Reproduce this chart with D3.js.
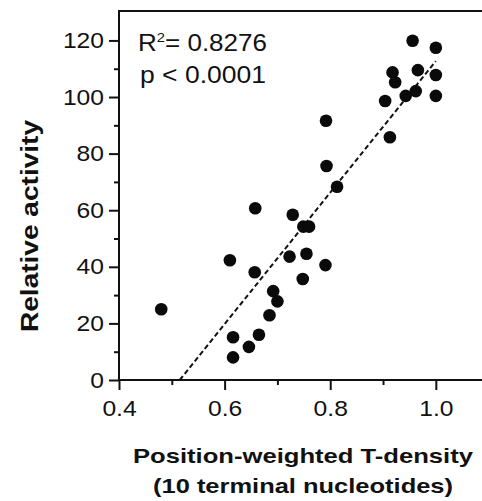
<!DOCTYPE html>
<meta charset="utf-8">
<html>
<head>
<style>
  body { margin: 0; background: #fff; overflow: hidden; }
  text { font-family: "Liberation Sans", Arial, sans-serif; fill: #111; }
</style>
</head>
<body>
<div id="chart"></div>
<script src="https://d3js.org/d3.v7.min.js"></script>
<script>

// data
var tDensity = [0.956, 1.0, 0.918, 0.966, 1.0, 0.923, 0.962, 0.943, 1.0, 0.904,
                0.913, 0.792, 0.793, 0.813, 0.658, 0.729, 0.749, 0.760, 0.610, 0.657,
                0.723, 0.755, 0.791, 0.748, 0.692, 0.700, 0.685, 0.665, 0.616, 0.646,
                0.616, 0.480];
var activity = [119.9, 117.4, 108.7, 109.5, 107.8, 105.2, 102.1, 100.4, 100.4, 98.6,
                85.8, 91.6, 75.6, 68.3, 60.7, 58.4, 54.2, 54.2, 42.3, 38.1,
                43.6, 44.6, 40.6, 35.7, 31.4, 27.8, 22.9, 16.0, 15.1, 11.7,
                8.0, 25.0];
// ends of the regression line
var fitX = [0.515, 1.0];
var fitY = [0, 112.7];

var xMajor = [0.4, 0.6, 0.8, 1.0];
var xMinor = [0.5, 0.7, 0.9];
var yMajor = [0, 20, 40, 60, 80, 100, 120];
var yMinor = [10, 30, 50, 70, 90, 110];

var W = 482, H = 501;

var svg = d3.select("#chart").append("svg")
    .attr("width", W)
    .attr("height", H);

var x = d3.scaleLinear().domain([0.4, 1.12]).range([119, 499.2]);
var y = d3.scaleLinear().domain([0, 130.4]).range([380, 11]);

// the figure's type is wider than Arial, so stretch text sideways
function widen(sel, k) {
  sel.each(function() {
    var len = this.getComputedTextLength();
    d3.select(this).attr("textLength", len * k).attr("lengthAdjust", "spacingAndGlyphs");
  });
}
function fitTo(sel, len) {
  sel.attr("textLength", len).attr("lengthAdjust", "spacingAndGlyphs");
}

// frame
svg.append("rect")
    .attr("x", x(0.4)).attr("y", y(130.4))
    .attr("width", x(1.12) - x(0.4))
    .attr("height", y(0) - y(130.4))
    .attr("fill", "none")
    .attr("stroke", "#111")
    .attr("stroke-width", 2);

// x axis
var xAxis = svg.append("g").attr("transform", "translate(0," + y(0) + ")");
xAxis.call(d3.axisBottom(x).tickValues(xMajor).tickSize(10).tickPadding(10)
    .tickFormat(d3.format(".1f")));
xAxis.append("g").call(d3.axisBottom(x).tickValues(xMinor).tickSize(5).tickFormat(""));
xAxis.selectAll(".domain").remove();
xAxis.selectAll("line").attr("stroke", "#111").attr("stroke-width", 2);
xAxis.selectAll("text").attr("font-size", 22).attr("fill", "#111")
    .attr("font-family", "Liberation Sans, Arial, sans-serif");
widen(xAxis.selectAll("text"), 1.12);

// y axis
var yAxis = svg.append("g").attr("transform", "translate(" + x(0.4) + ",0)");
yAxis.call(d3.axisLeft(y).tickValues(yMajor).tickSize(10).tickPadding(5));
yAxis.append("g").call(d3.axisLeft(y).tickValues(yMinor).tickSize(5).tickFormat(""));
yAxis.selectAll(".domain").remove();
yAxis.selectAll("line").attr("stroke", "#111").attr("stroke-width", 2);
yAxis.selectAll("text").attr("font-size", 22).attr("fill", "#111")
    .attr("font-family", "Liberation Sans, Arial, sans-serif");
widen(yAxis.selectAll("text"), 1.12);

// regression line
svg.append("line")
    .attr("x1", x(fitX[0])).attr("y1", y(fitY[0]))
    .attr("x2", x(fitX[1])).attr("y2", y(fitY[1]))
    .attr("stroke", "#111")
    .attr("stroke-width", 2)
    .attr("stroke-dasharray", "5,3");

// points
svg.selectAll(".dot")
    .data(tDensity)
    .enter()
    .append("circle")
      .attr("class", "dot")
      .attr("cx", function(d) { return x(d); })
      .attr("cy", function(d, i) { return y(activity[i]); })
      .attr("r", 6.3)
      .attr("fill", "#0a0a0a");

// stats
var r2 = svg.append("text").attr("x", 138).attr("y", 51).attr("font-size", 23);
r2.append("tspan").text("R");
r2.append("tspan").attr("font-size", 13).attr("dy", -9).text("2");
r2.append("tspan").attr("dy", 9).text("= 0.8276");
fitTo(r2, 129);
var pv = svg.append("text").attr("x", 140).attr("y", 83).attr("font-size", 23).text("p < 0.0001");
fitTo(pv, 126);

// axis titles
var yt = svg.append("text")
    .attr("text-anchor", "middle")
    .attr("transform", "translate(38,226) rotate(-90)")
    .attr("font-size", 23).attr("font-weight", "bold")
    .text("Relative activity");
fitTo(yt, 212);

var xt1 = svg.append("text").attr("text-anchor", "middle").attr("x", 303).attr("y", 463)
    .attr("font-size", 21).attr("font-weight", "bold")
    .text("Position-weighted T-density");
fitTo(xt1, 340);
var xt2 = svg.append("text").attr("text-anchor", "middle").attr("x", 303).attr("y", 493)
    .attr("font-size", 21).attr("font-weight", "bold")
    .text("(10 terminal nucleotides)");
fitTo(xt2, 300);

</script>
</body>
</html>
